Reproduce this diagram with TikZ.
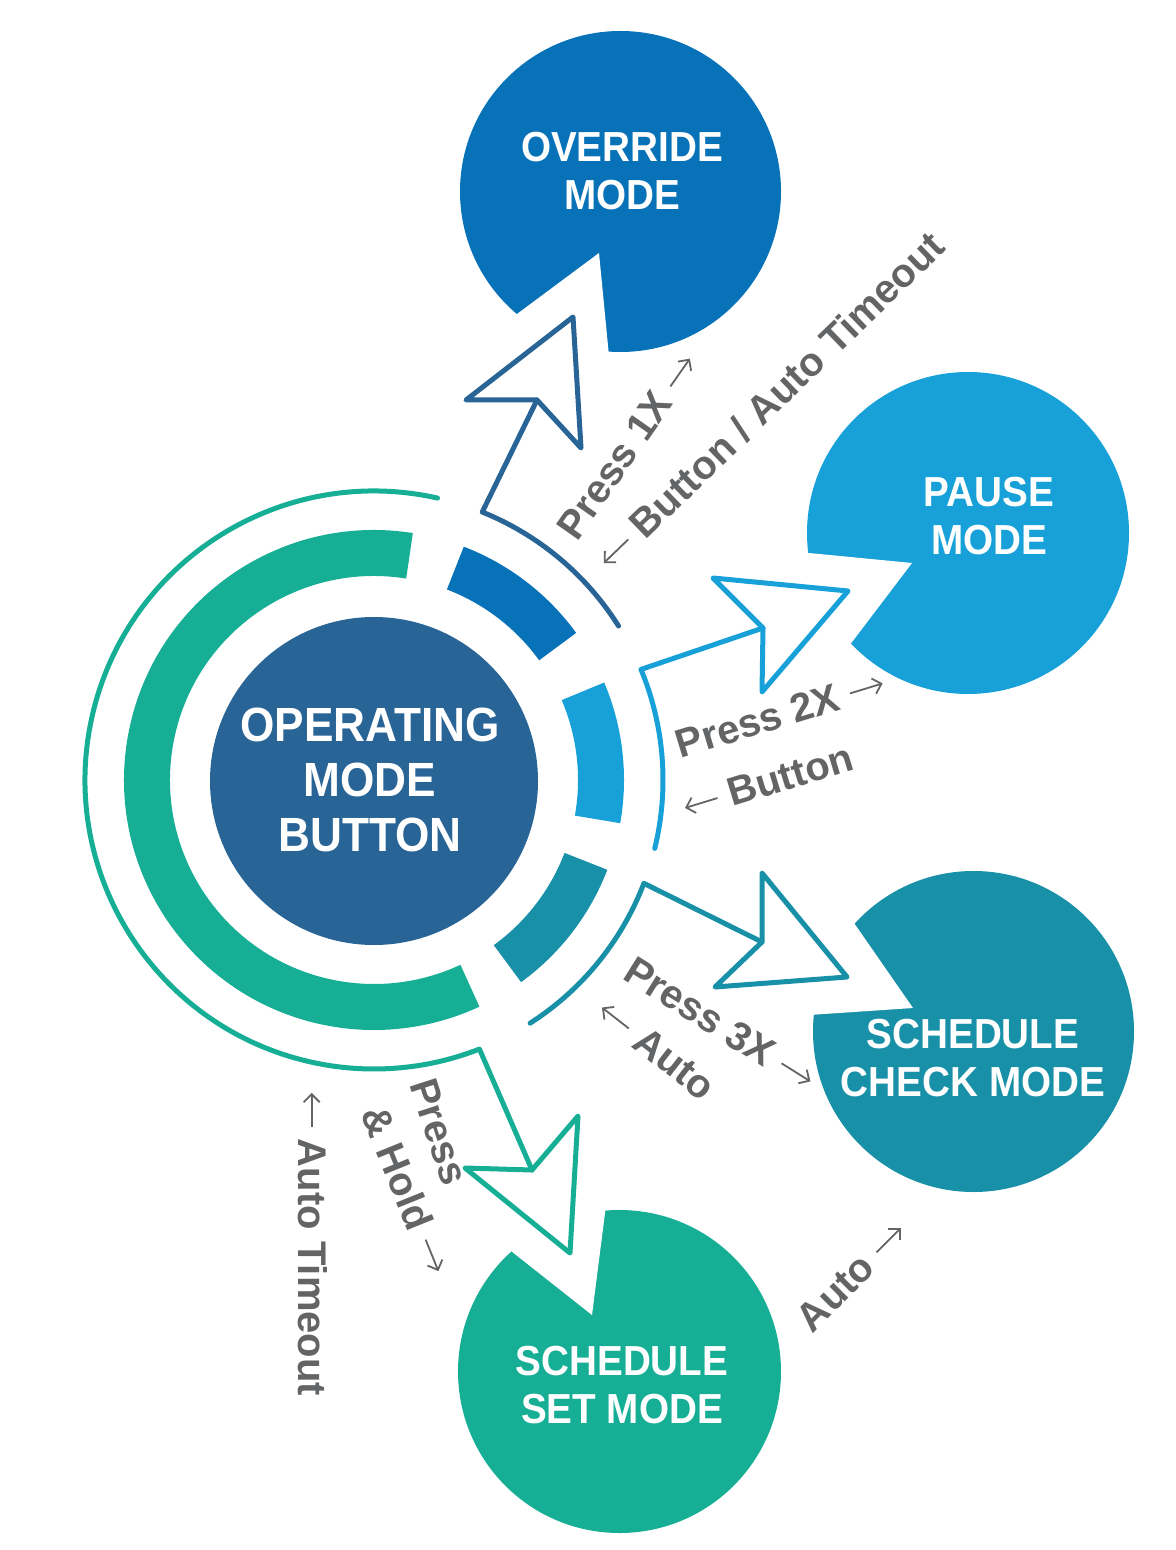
\documentclass[tikz,border=0pt]{standalone}
\usepackage{fontspec}
\setmainfont{Liberation Sans}
\newfontfamily\modefont[FakeStretch=0.92]{Liberation Sans}
\usetikzlibrary{calc,arrows.meta}
\definecolor{btnblue}{HTML}{286496}
\definecolor{ovrblue}{HTML}{0872B9}
\definecolor{pauseblue}{HTML}{18A1D9}
\definecolor{checkteal}{HTML}{1890A7}
\definecolor{setgreen}{HTML}{17AE96}
\definecolor{labelgray}{HTML}{636466}
\newcommand{\myrarr}{\tikz[baseline={(0pt,-6.5pt)}]\draw[labelgray, line width=0.9pt, -{Straight Barb[length=4pt,width=8pt]}] (0pt,0pt) -- (17pt,0pt);}
\newcommand{\mylarr}{\tikz[baseline={(0pt,-6.5pt)}]\draw[labelgray, line width=0.9pt, -{Straight Barb[length=4pt,width=8pt]}] (17pt,0pt) -- (0pt,0pt);}
\begin{document}
\begin{tikzpicture}[x=0.5pt,y=-0.5pt,
  blob/.style={circle, inner sep=0pt, draw=none},
  ringseg/.style={line width=23pt},
  conn/.style={line width=2.5pt, line cap=round, line join=round},
  modetext/.style={text=white, align=center, inner sep=0pt, font=\modefont\bfseries\fontsize{21pt}{24pt}\selectfont},
  lbl/.style={text=labelgray, inner sep=0pt, font=\bfseries\fontsize{20pt}{24pt}\selectfont}]
\useasboundingbox (0,0) rectangle (1175,1550);
\coordinate (C) at (374,780);

% mode circles
\node[blob, fill=ovrblue, minimum size=160.5pt] (ovr) at (620.5,191.5) {};
\node[blob, fill=pauseblue, minimum size=161pt] (pause) at (968,533) {};
\node[blob, fill=checkteal, minimum size=160.5pt] (check) at (973.5,1031.5) {};
\node[blob, fill=setgreen, minimum size=161.5pt] (set) at (619.5,1371.5) {};

% notches
\begin{scope}
\clip (ovr.center) circle[radius=162];
\fill[white] (599,253) -- ($(599,253)!3!(517,314)$) -- ($(599,253)!3!(609,356)$) -- cycle;
\end{scope}
\begin{scope}
\clip (pause.center) circle[radius=162];
\fill[white] (912,563) -- ($(912,563)!3!(809,553)$) -- ($(912,563)!3!(849,646)$) -- cycle;
\end{scope}
\begin{scope}
\clip (check.center) circle[radius=162];
\fill[white] (913,1008) -- ($(913,1008)!3!(854,923)$) -- ($(913,1008)!3!(809,1015)$) -- cycle;
\end{scope}
\begin{scope}
\clip (set.center) circle[radius=163];
\fill[white] (592,1315) -- ($(592,1315)!3!(511,1251)$) -- ($(592,1315)!3!(605,1213)$) -- cycle;
\end{scope}

% central button
\node[blob, fill=btnblue, minimum size=164pt] (btn) at (374,781) {};

% ring segments
\draw[ringseg, setgreen] ([shift={(C)}]-81:227) arc[start angle=-81, end angle=-295, radius=227];
\draw[ringseg, ovrblue] ([shift={(C)}]-36:227) arc[start angle=-36, end angle=-69, radius=227];
\draw[ringseg, pauseblue] ([shift={(C)}]10:227) arc[start angle=10, end angle=-23, radius=227];
\draw[ringseg, checkteal] ([shift={(C)}]54:227) arc[start angle=54, end angle=21, radius=227];

% arrowhead points
\coordinate (ovrN) at (537,400); \coordinate (ovrB1) at (466,400);
\coordinate (ovrT) at (573,317); \coordinate (ovrB2) at (581,448);
\coordinate (pauN) at (763,628); \coordinate (pauB1) at (713,578);
\coordinate (pauT) at (848,591); \coordinate (pauB2) at (762,692);
\coordinate (chkN) at (762,942); \coordinate (chkB1) at (762,873);
\coordinate (chkT) at (847,977); \coordinate (chkB2) at (715,987);
\coordinate (setN) at (532,1170); \coordinate (setB1) at (578,1116);
\coordinate (setT) at (570,1253); \coordinate (setB2) at (465,1168);

% connectors
\draw[conn, btnblue] ([shift={(C)}]-32.2:289) arc[start angle=-32.2, end angle=-68, radius=289] -- (ovrN);
\draw[conn, btnblue] (ovrN) -- (ovrB1) -- (ovrT) -- (ovrB2) -- cycle;
\draw[conn, pauseblue] ([shift={(C)}]13.7:289) arc[start angle=13.7, end angle=-22.5, radius=289] -- (pauN);
\draw[conn, pauseblue] (pauN) -- (pauB1) -- (pauT) -- (pauB2) -- cycle;
\draw[conn, checkteal] ([shift={(C)}]57.3:289) arc[start angle=57.3, end angle=20.95, radius=289] -- (chkN);
\draw[conn, checkteal] (chkN) -- (chkB1) -- (chkT) -- (chkB2) -- cycle;
\draw[conn, setgreen] ([shift={(C)}]-77.3:289) arc[start angle=-77.3, end angle=-291.4, radius=289] -- (setN);
\draw[conn, setgreen] (setN) -- (setB1) -- (setT) -- (setB2) -- cycle;

% mode texts
\node[modetext, font=\modefont\bfseries\fontsize{24pt}{27.5pt}\selectfont] (btntext) at (370,780) {OPERATING\\MODE\\BUTTON};
\node[modetext] (ovrtext) at (622,171) {OVERRIDE\\MODE};
\node[modetext] (pausetext) at (989,516) {PAUSE\\MODE};
\node[modetext] (checktext) at (973,1058) {SCHEDULE\\CHECK MODE};
\node[modetext] (settext) at (622,1385) {SCHEDULE\\SET MODE};

% gray labels
\node[lbl, rotate=55] (l1a) at (628,446) {Press 1X \myrarr};
\node[lbl, rotate=44] (l1b) at (770,401) {\mylarr{} Button / Auto Timeout};
\node[lbl, rotate=17] (l2a) at (780,714) {Press 2X \myrarr};
\node[lbl, rotate=17] (l2b) at (768,782) {\mylarr{} Button};
\node[lbl, rotate=-32] (l3a) at (720,1024) {Press 3X \myrarr};
\node[lbl, rotate=-38] (l3b) at (656,1049) {\mylarr{} Auto};
\node[lbl, rotate=-72] (l4a) at (439,1132) {Press};
\node[lbl, rotate=-68] (l4b) at (407,1190) {\& Hold \myrarr};
\node[lbl, rotate=-90] (l5) at (313,1244) {\mylarr{} Auto Timeout};
\node[lbl, rotate=45] (l6) at (852,1276) {Auto \myrarr};
\end{tikzpicture}
\end{document}
